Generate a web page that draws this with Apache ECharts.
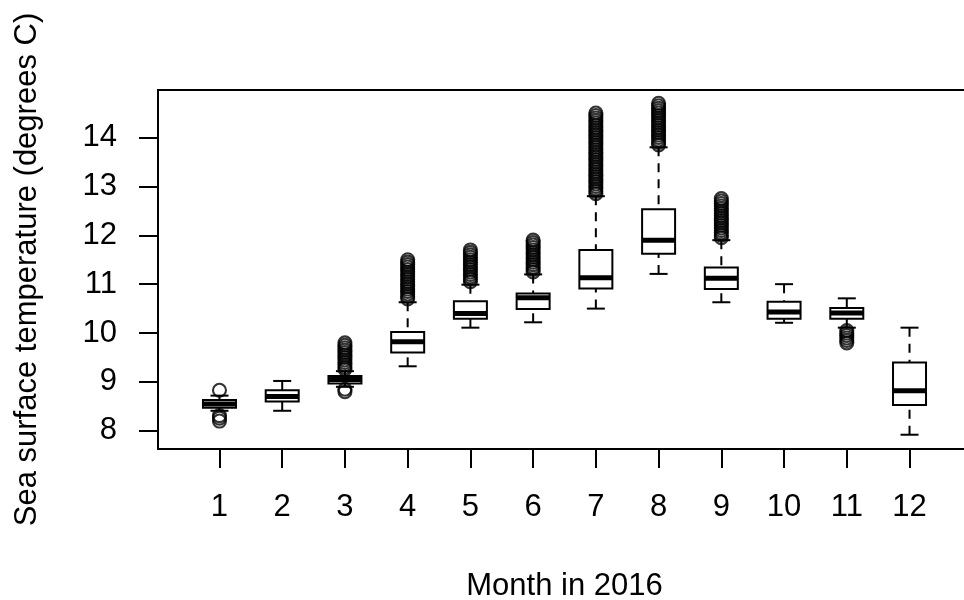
<!DOCTYPE html>
<html><head><meta charset="utf-8">
<script src="https://cdn.jsdelivr.net/npm/echarts@6/dist/echarts.min.js"></script>
<style>html,body{margin:0;padding:0;background:#fff}#c{width:964px;height:600px}</style>
</head><body><div id="c"></div>
<script>
const months      = [1, 2, 3, 4, 5, 6, 7, 8, 9, 10, 11, 12];
const whiskerLow  = [8.41, 8.41, 8.90, 9.32, 10.11, 10.22, 10.50, 11.21, 10.63, 10.21, 10.11, 7.92];
const q1          = [8.47, 8.60, 8.97, 9.60, 10.29, 10.49, 10.91, 11.62, 10.90, 10.29, 10.29, 8.53];
const median      = [8.55, 8.70, 9.05, 9.82, 10.40, 10.72, 11.13, 11.90, 11.12, 10.43, 10.41, 8.82];
const q3          = [8.63, 8.83, 9.12, 10.02, 10.65, 10.81, 11.70, 12.53, 11.34, 10.64, 10.51, 9.40];
const whiskerHigh = [8.72, 9.02, 9.22, 10.63, 10.99, 11.20, 12.80, 13.80, 11.90, 11.00, 10.71, 10.11];
const outliers = [
  [8.83, 8.31, 8.26, 8.20],
  [],
  [9.26, 9.30, 9.35, 9.40, 9.45, 9.50, 9.55, 9.60, 9.65, 9.70, 9.75, 9.80, 8.85, 8.80],
  [10.70, 10.75, 10.80, 10.85, 10.90, 10.95, 11.00, 11.05, 11.10, 11.15, 11.20, 11.25, 11.30, 11.35, 11.40, 11.45, 11.50],
  [11.05, 11.10, 11.15, 11.20, 11.25, 11.30, 11.35, 11.40, 11.45, 11.50, 11.55, 11.60, 11.65, 11.70],
  [11.25, 11.30, 11.35, 11.40, 11.45, 11.50, 11.55, 11.60, 11.65, 11.70, 11.75, 11.80, 11.85, 11.90],
  [12.85, 12.90, 12.95, 13.00, 13.05, 13.10, 13.15, 13.20, 13.25, 13.30, 13.35, 13.40, 13.45, 13.50, 13.55, 13.60, 13.65,
   13.70, 13.75, 13.80, 13.85, 13.90, 13.95, 14.00, 14.05, 14.10, 14.15, 14.20, 14.25, 14.30, 14.35, 14.40, 14.45, 14.50],
  [13.85, 13.90, 13.95, 14.00, 14.05, 14.10, 14.15, 14.20, 14.25, 14.30, 14.35, 14.40, 14.45, 14.50, 14.55, 14.60, 14.65, 14.70],
  [11.95, 12.00, 12.05, 12.10, 12.15, 12.20, 12.25, 12.30, 12.35, 12.40, 12.45, 12.50, 12.55, 12.60, 12.65, 12.70, 12.75],
  [],
  [10.05, 10.00, 9.95, 9.90, 9.85, 9.80],
  []
];
const yTicks = [8, 9, 10, 11, 12, 13, 14];
const xTicks = months;
const yRange = [7.628, 14.972];
const xRange = [0.02, 12.98];

const boxData = months.map((m, i) => [m, whiskerLow[i], q1[i], median[i], q3[i], whiskerHigh[i]]);
const outlierData = [];
outliers.forEach((arr, i) => arr.forEach(v => outlierData.push([months[i], v])));

const FONT = "'Liberation Sans', Arial, sans-serif";
const FS = 31;
const INK = '#000';

function renderBox(params, api) {
  const x = api.value(0);
  const unit = api.size([1, 0])[0];
  const hb = unit * 0.263, hs = unit * 0.1435;
  const lo = api.coord([x, api.value(1)]);
  const b1 = api.coord([x, api.value(2)]);
  const md = api.coord([x, api.value(3)]);
  const b3 = api.coord([x, api.value(4)]);
  const hi = api.coord([x, api.value(5)]);
  const cx = lo[0];
  const ln = { stroke: INK, lineWidth: 2 };
  const dash = { stroke: INK, lineWidth: 2, lineDash: [9, 7] };
  return {
    type: 'group',
    children: [
      { type: 'line', shape: { x1: cx, y1: hi[1], x2: cx, y2: b3[1] }, style: dash },
      { type: 'line', shape: { x1: cx, y1: lo[1], x2: cx, y2: b1[1] }, style: dash },
      { type: 'line', shape: { x1: cx - hs, y1: hi[1], x2: cx + hs, y2: hi[1] }, style: ln },
      { type: 'line', shape: { x1: cx - hs, y1: lo[1], x2: cx + hs, y2: lo[1] }, style: ln },
      { type: 'rect', shape: { x: cx - hb, y: b3[1], width: 2 * hb, height: b1[1] - b3[1] },
        style: { fill: '#fff', stroke: INK, lineWidth: 2 } },
      { type: 'line', shape: { x1: cx - hb, y1: md[1], x2: cx + hb, y2: md[1] },
        style: { stroke: INK, lineWidth: 5 } }
    ]
  };
}

const chart = echarts.init(document.getElementById('c'), null, { renderer: 'canvas' });
chart.setOption({
  animation: false,
  backgroundColor: '#fff',
  grid: { left: 158, top: 90, width: 813, height: 359, show: true, outerBoundsMode: 'none',
          containLabel: false,
          borderColor: INK, borderWidth: 2, backgroundColor: 'transparent' },
  xAxis: {
    type: 'value', min: xRange[0], max: xRange[1],
    name: 'Month in 2016', nameLocation: 'middle', nameGap: 137,
    nameTextStyle: { fontSize: FS, fontFamily: FONT, color: INK, verticalAlign: 'middle' },
    axisLine: { show: false },
    splitLine: { show: false },
    axisTick: { show: true, length: 19, lineStyle: { color: INK, width: 2 }, customValues: xTicks },
    axisLabel: { fontSize: FS, fontFamily: FONT, color: INK, margin: 58, verticalAlign: 'middle',
                 customValues: xTicks }
  },
  yAxis: {
    type: 'value', min: yRange[0], max: yRange[1],
    name: 'Sea surface temperature (degrees C)', nameLocation: 'middle', nameGap: 131, nameRotate: 90,
    nameTextStyle: { fontSize: FS, fontFamily: FONT, color: INK, verticalAlign: 'middle' },
    axisLine: { show: false },
    splitLine: { show: false },
    axisTick: { show: true, length: 19, lineStyle: { color: INK, width: 2 }, customValues: yTicks },
    axisLabel: { fontSize: FS, fontFamily: FONT, color: INK, margin: 41, customValues: yTicks }
  },
  series: [
    { type: 'custom', renderItem: renderBox, data: boxData,
      encode: { x: 0, y: [1, 2, 3, 4, 5] }, silent: true },
    { type: 'scatter', data: outlierData, symbol: 'circle', symbolSize: 13, silent: true,
      itemStyle: { color: 'rgba(0,0,0,0)', borderColor: INK, borderWidth: 2.1 } }
  ]
});
</script>
</body></html>
